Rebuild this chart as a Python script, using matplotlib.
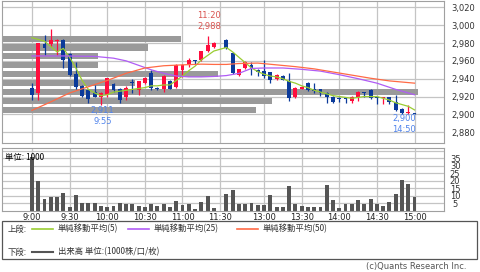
import numpy as np
import matplotlib
matplotlib.use("Agg")
import matplotlib.pyplot as plt
from matplotlib.lines import Line2D
from matplotlib.patches import Rectangle
from matplotlib import transforms

plt.rcParams['font.family'] = ['DejaVu Sans', 'Noto Sans CJK JP']

# 5-minute bars: 9:00-11:30 (slot 30 = 11:30 has no trade), 12:30-15:00
nan = np.nan
opens = [2930, 2924, 2979, 2979, 2982, 2983, 2968, 2945, 2932, 2927,
         2925, 2919, 2922, 2934, 2929, 2919, 2936, 2927, 2935, 2946,
         2930, 2929, 2937, 2931, 2950, 2957, 2961, 2961, 2971, 2975,
         nan,
         2983, 2969, 2944, 2952, 2955, 2950, 2949, 2947, 2940, 2943,
         2937, 2919, 2929, 2935, 2928, 2928, 2924, 2920, 2918, 2918,
         2915, 2920, 2925, 2927, 2919, 2918, 2919, 2914, 2906, 2901, 2901]
highs = [2935, 2980, 2989, 2996, 2985, 2985, 2969, 2959, 2933, 2928,
         2933, 2925, 2941, 2935, 2930, 2932, 2940, 2937, 2942, 2950,
         2931, 2944, 2938, 2956, 2956, 2963, 2961, 2971, 2988, 2981,
         nan,
         2984, 2970, 2951, 2960, 2959, 2951, 2961, 2948, 2945, 2944,
         2946, 2931, 2932, 2936, 2935, 2929, 2925, 2921, 2919, 2919,
         2921, 2926, 2925, 2929, 2919, 2919, 2920, 2922, 2907, 2910, 2901]
lows = [2916, 2916, 2967, 2976, 2966, 2952, 2943, 2928, 2920, 2913,
        2919, 2911, 2920, 2925, 2913, 2916, 2924, 2922, 2934, 2927,
        2927, 2925, 2928, 2930, 2942, 2953, 2956, 2960, 2970, 2974,
        nan,
        2973, 2945, 2943, 2951, 2944, 2943, 2941, 2935, 2939, 2938,
        2915, 2918, 2928, 2926, 2924, 2921, 2913, 2913, 2914, 2913,
        2913, 2915, 2920, 2917, 2912, 2912, 2912, 2904, 2900, 2900, 2900]
closes = [2922, 2980, 2974, 2983, 2983, 2961, 2944, 2931, 2921, 2917,
          2920, 2924, 2941, 2927, 2916, 2930, 2935, 2937, 2941, 2930,
          2929, 2943, 2929, 2955, 2955, 2961, 2960, 2971, 2978, 2980,
          nan,
          2974, 2946, 2951, 2959, 2951, 2947, 2943, 2939, 2944, 2939,
          2918, 2930, 2931, 2927, 2926, 2924, 2919, 2914, 2917, 2917,
          2919, 2925, 2924, 2918, 2918, 2919, 2914, 2905, 2901, 2903, 2900]
volume = [36, 20, 8, 9.4, 9.4, 11.7, 2.8, 10.5, 5.4, 5.4,
          5.4, 3.2, 2.8, 3.2, 5.6, 4.5, 4.5, 3.2, 2.7, 4.9,
          3.3, 4.9, 2.7, 6.7, 4.2, 4.4, 1.6, 6.0, 9.8, 2.2,
          0,
          11.1, 13.8, 4.9, 4.4, 5.6, 4.2, 3.8, 10.4, 2.7, 2.7,
          16.7, 4.4, 3.1, 2.7, 2.7, 2.7, 17.1, 7.1, 1.8, 4.9,
          4.4, 7.6, 4.4, 8.2, 4.4, 3.6, 6.0, 11.6, 20.4, 17.8, 9.3]

ma5_idx = list(range(0, 30)) + list(range(31, 62))
ma5 = [2986, 2984, 2982, 2976, 2970, 2974, 2964, 2952, 2938, 2928,
       2924, 2921, 2922, 2925, 2926, 2927, 2928, 2929, 2930, 2932,
       2932, 2933, 2933, 2938, 2943, 2949, 2954, 2961, 2966, 2971,
       2975, 2970, 2964, 2958, 2952, 2948, 2945, 2943, 2942, 2940,
       2937, 2935, 2932, 2930, 2927, 2925, 2923, 2921, 2920, 2919,
       2918, 2919, 2920, 2920, 2920, 2918, 2916, 2913, 2911, 2909, 2905]
ma25_idx = [0, 5, 10, 13, 15, 17, 19, 21, 23, 25, 27, 29, 31, 33, 35, 37,
            40, 43, 46, 49, 52, 55, 58, 61]
ma25 = [2965.5, 2965.5, 2965, 2963, 2960, 2955, 2950, 2946, 2943, 2942,
        2942, 2942.5, 2943.5, 2946, 2951.5, 2952, 2952, 2950.5, 2948.5,
        2944.5, 2940, 2935, 2928, 2922]
ma50_idx = [0, 3, 6, 9, 12, 15, 18, 21, 24, 27, 29, 31, 33, 36, 39, 42,
            45, 48, 51, 54, 57, 61]
ma50 = [2904.5, 2914, 2924, 2931, 2938, 2946, 2952, 2954.5, 2955.5, 2956.3,
        2956, 2956, 2957, 2957.5, 2955.5, 2953.5, 2951, 2947.5, 2944,
        2940.5, 2937.5, 2935]

# price-by-volume profile (relative, longest = 100)
profile_price = [2905, 2915, 2925, 2935, 2945, 2955, 2965, 2975, 2985]
profile_vol = [61, 65, 100, 32, 52, 23, 23, 35, 43]

tick_idx = [0, 6, 12, 18, 24, 30, 37, 43, 49, 55, 61]
tick_lbl = ['9:00', '9:30', '10:00', '10:30', '11:00', '11:30',
            '13:00', '13:30', '14:00', '14:30', '15:00']
price_ticks = [2880, 2900, 2920, 2940, 2960, 2980, 3000, 3020]
vol_ticks = [5, 10, 15, 20, 25, 30, 35]

RED = '#ff0d3d'
BLUE = '#0b3a9a'
GRID = '#c4c4c4'
FRAME = '#a0a0a0'
W, H = 480, 272

fig = plt.figure(figsize=(W / 100, H / 100), dpi=100)
fig.patch.set_facecolor('white')

ax = fig.add_axes([2 / W, 1 - 143 / H, 442 / W, 142 / H])
axv = fig.add_axes([2 / W, 1 - 211 / H, 442 / W, 62.7 / H])

for a in (ax, axv):
    a.set_xlim(-4.78, 65.7)
    for s in a.spines.values():
        s.set_color(FRAME)
        s.set_linewidth(0.8)
    for t in tick_idx:
        a.axvline(t, color=GRID, lw=0.9, zorder=0)

ax.set_ylim(2867.9, 3027.1)
for p in price_ticks:
    ax.axhline(p, color=GRID, lw=0.9, zorder=0)

# profile bars from the left edge
blend = transforms.blended_transform_factory(ax.transAxes, ax.transData)
ax.barh(profile_price, [v / 106.3 for v in profile_vol], left=0, height=6.8,
        color='#9a9a9a', transform=blend, zorder=1)
ax.set_xlim(-4.78, 65.7)
ax.set_ylim(2867.9, 3027.1)

# candles
for i in range(len(opens)):
    o, h, l, c = opens[i], highs[i], lows[i], closes[i]
    if np.isnan(o):
        continue
    col = RED if c >= o else BLUE
    ax.vlines(i, l, h, color=col, lw=0.9, zorder=2)
    body = max(abs(c - o), 1.2)
    ax.bar(i, body, bottom=min(o, c) if abs(c - o) >= 1.2 else (o + c) / 2 - 0.6,
           width=0.62, color=col, zorder=3)

ax.plot(ma5_idx, ma5, color='#9acd32', lw=0.9, zorder=4)
ax.plot(ma25_idx, ma25, color='#b05cf5', lw=0.9, zorder=4)
ax.plot(ma50_idx, ma50, color='#ff6a45', lw=0.9, zorder=4)

ax.annotate('11:20\n2,988', xy=(28, 2988), xytext=(1, 3.5), textcoords='offset points',
            ha='center', va='bottom', fontsize=6, color='#d9534f', linespacing=1.25, zorder=6)
ax.annotate('2,911\n9:55', xy=(11, 2911), xytext=(1, -1), textcoords='offset points',
            ha='center', va='top', fontsize=6, color='#4f83ec', linespacing=1.25, zorder=6)
ax.annotate('2,900\n14:50', xy=(59, 2900), xytext=(1.5, 0), textcoords='offset points',
            ha='center', va='top', fontsize=6, color='#4f83ec', linespacing=1.25, zorder=6)

ax.yaxis.tick_right()
ax.set_yticks(price_ticks)
ax.set_yticklabels([f'{p:,}' for p in price_ticks])
ax.tick_params(axis='y', length=0, pad=5, labelsize=6, labelcolor='#333333')
ax.set_xticks([])

# volume
axv.set_ylim(0, 41.7)
for v in vol_ticks + [40]:
    axv.axhline(v, color=GRID, lw=0.9, zorder=0)
axv.bar(range(len(volume)), volume, width=0.62, color='#555555', zorder=2)
axv.set_xlim(-4.78, 65.7)
axv.yaxis.tick_right()
axv.set_yticks(vol_ticks)
axv.set_yticklabels([str(v) for v in vol_ticks])
axv.tick_params(axis='y', length=0, pad=8, labelsize=6, labelcolor='#333333')
for lb in axv.get_yticklabels():
    lb.set_ha('center')
axv.set_xticks(tick_idx)
axv.set_xticklabels(tick_lbl)
axv.tick_params(axis='x', length=0, pad=1.5, labelsize=6, labelcolor='#222222')
axv.text(3 / 442, 0.86, '単位: 1000', transform=axv.transAxes, fontsize=6, zorder=5,
         va='center', ha='left', family=['Noto Sans CJK JP', 'DejaVu Sans'])

# legend box
fig.patches.append(Rectangle((2 / W, 1 - 259 / H), 475 / W, 38 / H, transform=fig.transFigure,
                             fill=False, edgecolor='#555555', lw=0.9))
jp = ['Noto Sans CJK JP', 'DejaVu Sans']
def ytop(py):
    return 1 - py / H

fig.text(8 / W, ytop(229), '上段:', fontsize=6, va='center', family=jp, color='#333333')
for x0, col, lbl in [(32, '#9acd32', '単純移動平均(5)'), (128, '#b05cf5', '単純移動平均(25)'),
                     (237, '#ff6a45', '単純移動平均(50)')]:
    fig.add_artist(Line2D([x0 / W, (x0 + 21) / W], [ytop(229)] * 2, color=col, lw=1.2))
    fig.text((x0 + 26) / W, ytop(229), lbl, fontsize=6, va='center', family=jp, color='#333333')
fig.text(8 / W, ytop(252), '下段:', fontsize=6, va='center', family=jp, color='#333333')
fig.add_artist(Line2D([32 / W, 53 / W], [ytop(252)] * 2, color='#555555', lw=1.5))
fig.text(58 / W, ytop(252), '出来高 単位:(1000株/口/枚)', fontsize=6, va='center', family=jp,
         color='#333333')
fig.text(466 / W, ytop(267), '(c)Quants Research Inc.', fontsize=6, va='center', ha='right',
         color='#555555')

fig.savefig('out.png', dpi=100)
